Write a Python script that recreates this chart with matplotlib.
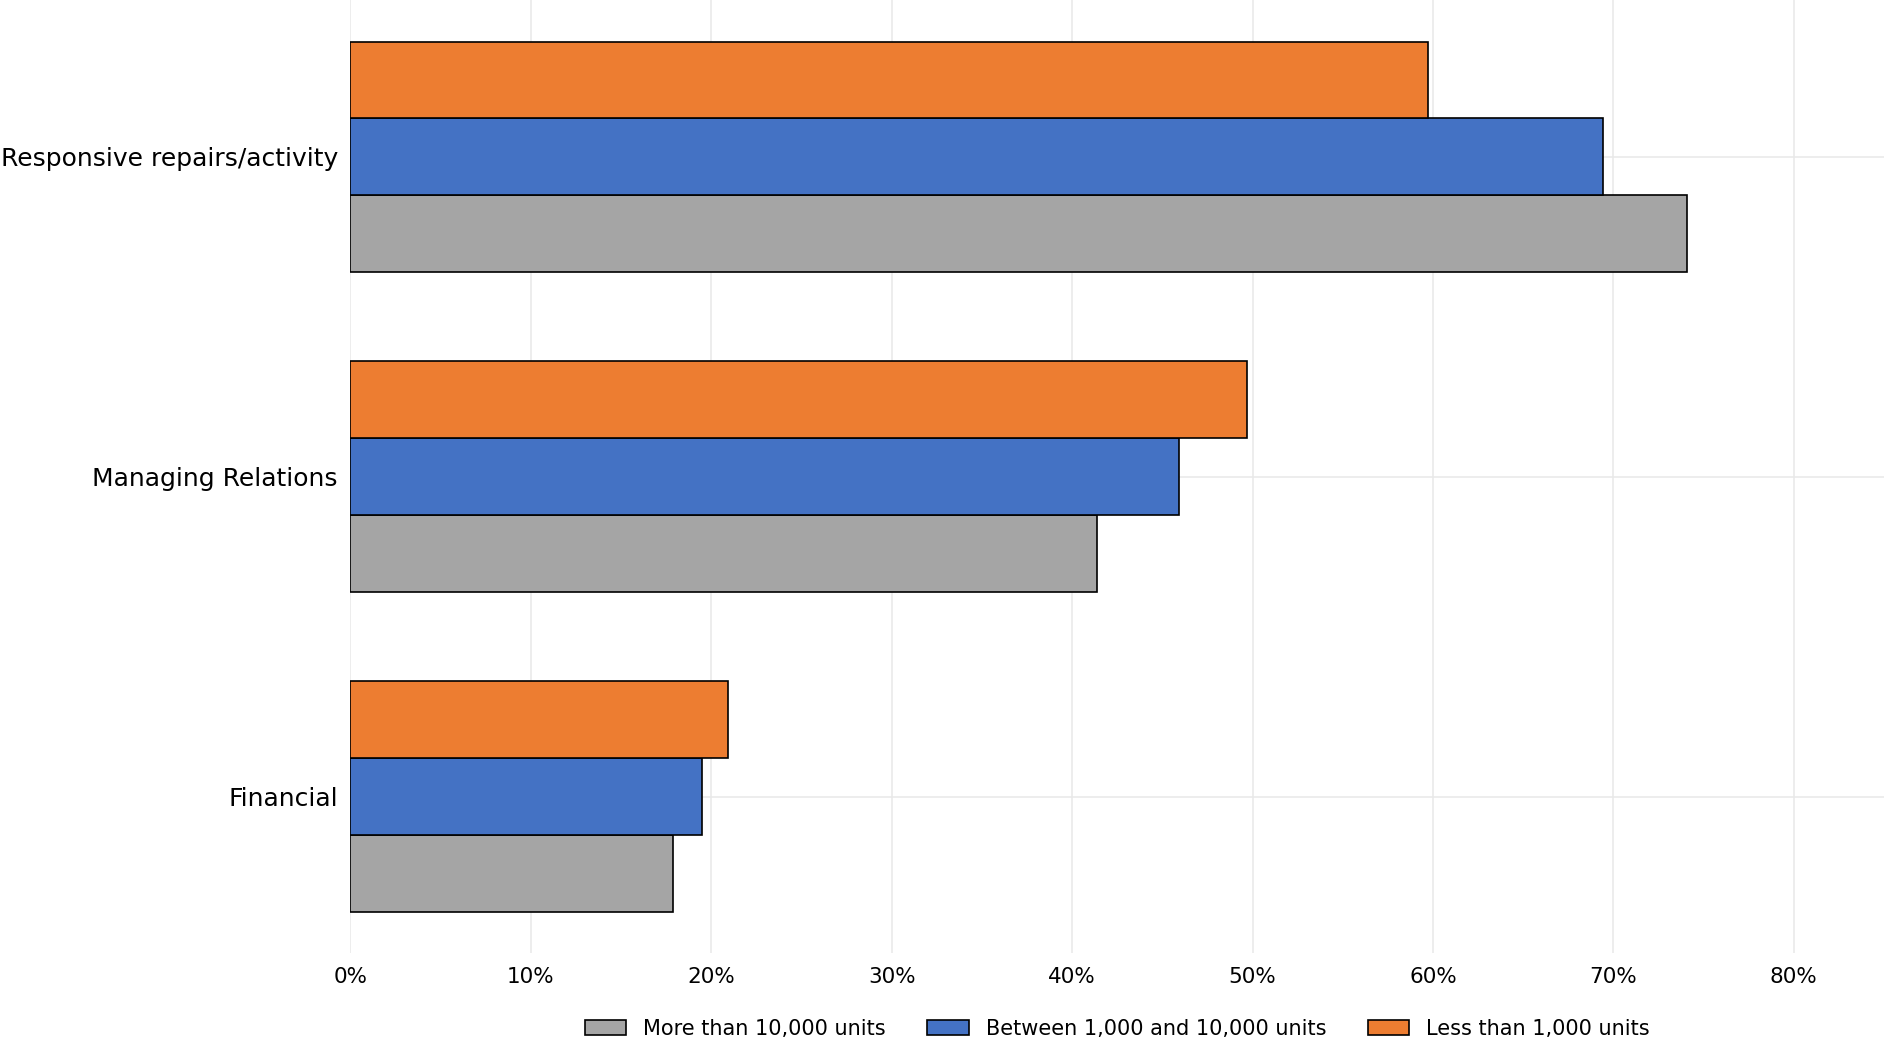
import numpy as np
import matplotlib
matplotlib.use("Agg")
import matplotlib.pyplot as plt
from matplotlib.ticker import PercentFormatter

# categories from bottom to top
categories = ["Financial", "Managing Relations", "Responsive repairs/activity"]

# share of organisations per size band
more_than_10000 = [0.179, 0.414, 0.741]
between_1000_10000 = [0.195, 0.459, 0.694]
less_than_1000 = [0.209, 0.497, 0.597]

series_names = ["More than 10,000 units", "Between 1,000 and 10,000 units", "Less than 1,000 units"]
x_ticks = [0, 0.1, 0.2, 0.3, 0.4, 0.5, 0.6, 0.7, 0.8]


def main():
    fig = plt.figure(figsize=(18.84, 10.58), dpi=100)
    ax = fig.add_axes([0.186, 0.099, 0.814, 0.901])

    y = np.arange(len(categories))
    h = 0.24
    colors = ["#A5A5A5", "#4472C4", "#ED7D31"]
    values = [more_than_10000, between_1000_10000, less_than_1000]

    for i, (vals, name, col) in enumerate(zip(values, series_names, colors)):
        ax.barh(y + (i - 1) * h, vals, height=h, color=col, edgecolor="black",
                linewidth=1.2, label=name, zorder=3)

    ax.set_yticks(y)
    ax.set_yticklabels(categories, fontsize=18)
    ax.set_xticks(x_ticks)
    ax.xaxis.set_major_formatter(PercentFormatter(1.0, decimals=0))
    ax.tick_params(axis="x", labelsize=15.5, length=0, pad=10)
    ax.tick_params(axis="y", length=0, pad=9)
    ax.set_xlim(0, 0.85)
    ax.set_ylim(-0.49, 2.49)

    ax.grid(True, color="#e8e8e8", linewidth=1.1, zorder=0)
    ax.set_axisbelow(True)
    for s in ax.spines.values():
        s.set_visible(False)

    ax.legend(loc="upper center", bbox_to_anchor=(0.5, -0.049), ncol=3,
              frameon=False, fontsize=15, columnspacing=2.0)

    fig.savefig("out.png", dpi=100)


if __name__ == '__main__': main()
